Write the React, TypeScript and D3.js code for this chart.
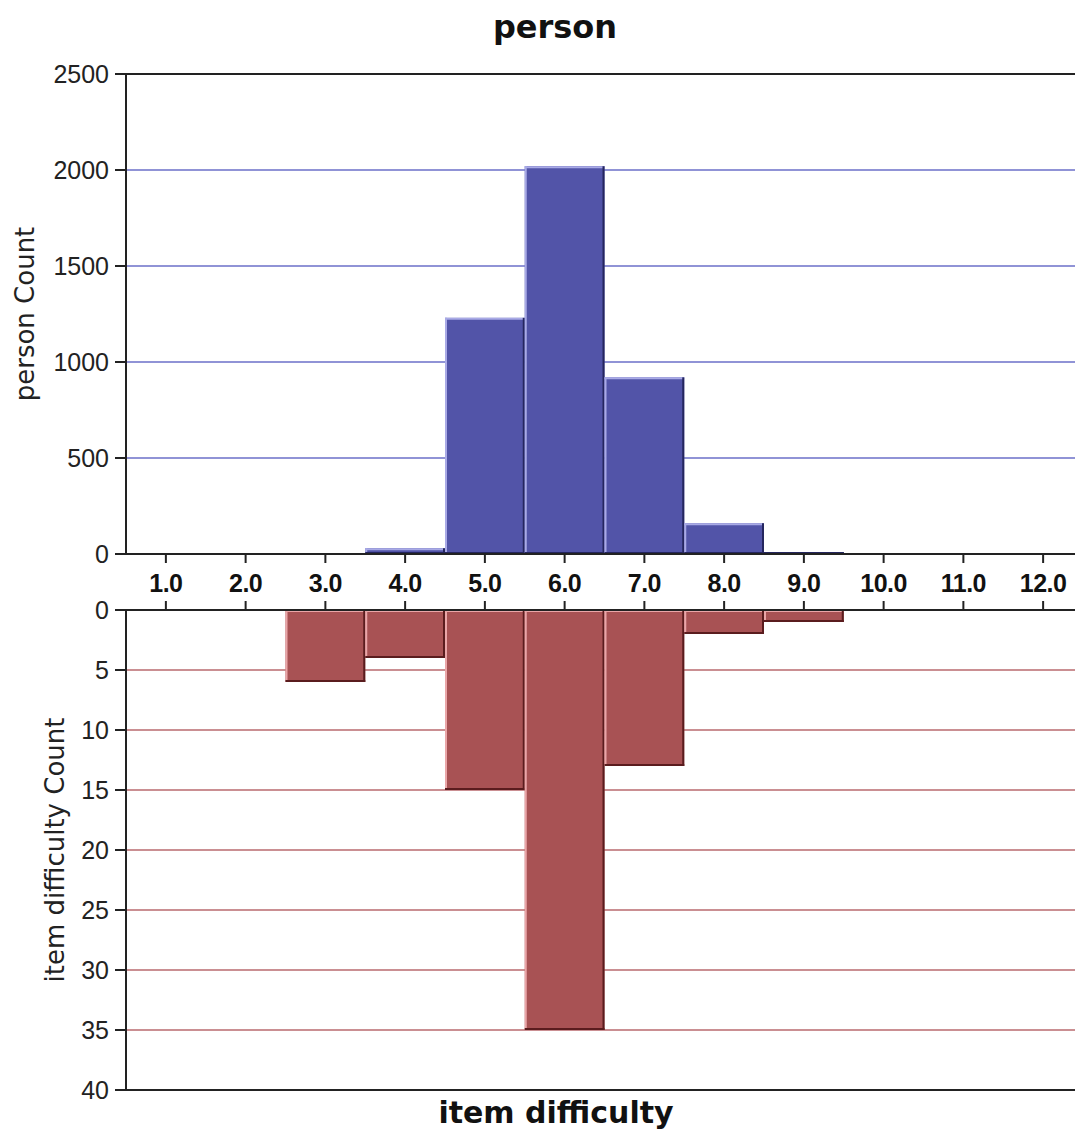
import React from "react";
import * as d3 from "d3";

const binCenters = [1, 2, 3, 4, 5, 6, 7, 8, 9, 10, 11, 12];
const personCounts = [0, 0, 0, 30, 1230, 2020, 920, 160, 10, 0, 0, 0];
const itemCounts = [0, 0, 6, 4, 15, 35, 13, 2, 1, 0, 0, 0];
const personTicks = [0, 500, 1000, 1500, 2000, 2500];
const itemTicks = [0, 5, 10, 15, 20, 25, 30, 35, 40];
const xTickLabels = ["1.0", "2.0", "3.0", "4.0", "5.0", "6.0", "7.0", "8.0", "9.0", "10.0", "11.0", "12.0"];

const W = 1075, H = 1136;
const left = 126;

export default function App() {
  const x = d3.scaleLinear().domain([0.5, 12.5]).range([left, left + 957]);
  const yTop = d3.scaleLinear().domain([0, 2500]).range([554, 74]);
  const yBot = d3.scaleLinear().domain([0, 40]).range([610, 1090]);
  const font = "DejaVu Sans, sans-serif";
  const arial = "Liberation Sans, Arial, sans-serif";

  const bevelBar = (x0: number, x1: number, y0: number, y1: number, fill: string, light: string, dark: string, key: string) => {
    const w = x1 - x0, h = y1 - y0;
    if (h <= 0) return null;
    return (
      <g key={key}>
        <rect x={x0} y={y0} width={w} height={h} fill={fill} />
        <line x1={x0 + 1} x2={x0 + 1} y1={y0} y2={y1} stroke={light} strokeWidth={2} />
        <line x1={x0} x2={x1} y1={y0 + 1} y2={y0 + 1} stroke={light} strokeWidth={2} />
        <line x1={x1 - 1} x2={x1 - 1} y1={y0} y2={y1} stroke={dark} strokeWidth={2} />
        <line x1={x0} x2={x1} y1={y1 - 1} y2={y1 - 1} stroke={dark} strokeWidth={2} />
      </g>
    );
  };

  return (
    <svg width={W} height={H} style={{ display: "block", position: "absolute", left: 0, top: 0 }} fontFamily={font}>
      <rect width={W} height={H} fill="#fff" />
      <text x={555} y={38} textAnchor="middle" fontSize={32} fontWeight="bold" fill="#111">person</text>
      {personTicks.filter(t => t > 0 && t < 2500).map(t => (
        <line key={"gt" + t} x1={left} x2={W} y1={yTop(t)} y2={yTop(t)} stroke="#6b6fc8" strokeWidth={1.5} />
      ))}
      {itemTicks.filter(t => t > 0 && t < 40).map(t => (
        <line key={"gb" + t} x1={left} x2={W} y1={yBot(t)} y2={yBot(t)} stroke="#b86a6e" strokeWidth={1.5} />
      ))}
      {binCenters.map((c, i) => bevelBar(x(c - 0.5), x(c + 0.5), yTop(personCounts[i]), yTop(0), "#5254a8", "#a9aae6", "#25265e", "p" + i))}
      {binCenters.map((c, i) => bevelBar(x(c - 0.5), x(c + 0.5), yBot(0), yBot(itemCounts[i]), "#a85254", "#eaa6a8", "#5a1c1e", "i" + i))}
      <line x1={115} x2={W} y1={74} y2={74} stroke="#222" strokeWidth={2} />
      <line x1={115} x2={W} y1={554} y2={554} stroke="#222" strokeWidth={2} />
      <line x1={left} x2={left} y1={74} y2={554} stroke="#222" strokeWidth={2} />
      <line x1={115} x2={W} y1={610} y2={610} stroke="#222" strokeWidth={2} />
      <line x1={115} x2={W} y1={1090} y2={1090} stroke="#222" strokeWidth={2} />
      <line x1={left} x2={left} y1={610} y2={1090} stroke="#222" strokeWidth={2} />
      {personTicks.map(t => (
        <g key={"yt" + t}>
          <line x1={115} x2={left} y1={yTop(t)} y2={yTop(t)} stroke="#222" strokeWidth={2} />
          <text x={109} y={yTop(t) + 9} textAnchor="end" fontSize={25} fill="#222" fontFamily={arial}>{t}</text>
        </g>
      ))}
      {itemTicks.map(t => (
        <g key={"yb" + t}>
          <line x1={115} x2={left} y1={yBot(t)} y2={yBot(t)} stroke="#222" strokeWidth={2} />
          <text x={109} y={yBot(t) + 9} textAnchor="end" fontSize={25} fill="#222" fontFamily={arial}>{t}</text>
        </g>
      ))}
      {binCenters.map((c, i) => (
        <g key={"xt" + c}>
          <line x1={x(c)} x2={x(c)} y1={554} y2={563} stroke="#222" strokeWidth={2} />
          <line x1={x(c)} x2={x(c)} y1={601} y2={610} stroke="#222" strokeWidth={2} />
          <text x={x(c)} y={592} textAnchor="middle" fontSize={25} fontWeight="bold" fill="#111" fontFamily={arial} letterSpacing={-0.5}>{xTickLabels[i]}</text>
        </g>
      ))}
      <text transform="translate(34,314) rotate(-90)" textAnchor="middle" fontSize={26} fill="#222">person Count</text>
      <text transform="translate(64,850) rotate(-90)" textAnchor="middle" fontSize={26} fill="#222">item difficulty Count</text>
      <text x={556} y={1123} textAnchor="middle" fontSize={30} fontWeight="bold" fill="#111">item difficulty</text>
    </svg>
  );
}
